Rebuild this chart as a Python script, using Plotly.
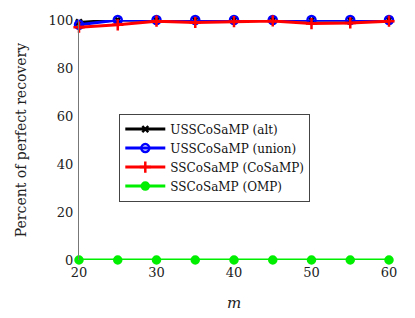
import plotly.graph_objects as go

m = [20, 25, 30, 35, 40, 45, 50, 55, 60]
alt = [99, 100, 100, 100, 100, 100, 100, 100, 100]
union = [98, 100, 100, 100, 100, 100, 100, 100, 100]
cosamp = [97, 98, 99.5, 99, 99.3, 99.6, 98.5, 98.8, 99.5]
omp = [0, 0, 0, 0, 0, 0, 0, 0, 0]

names = ["USSCoSaMP (alt)", "USSCoSaMP (union)", "SSCoSaMP (CoSaMP)", "SSCoSaMP (OMP)"]
colors = ["#000000", "#0000ff", "#ff0000", "#00ee00"]
symbols = ["x-thin-open", "circle-open", "cross-thin-open", "circle"]
sizes = [6, 8, 8, 7]
series = [alt, union, cosamp, omp]

fig = go.Figure()
for name, ys, c, s, sz in zip(names, series, colors, symbols, sizes):
    fig.add_trace(go.Scatter(
        x=m, y=ys, name=name, mode="lines+markers",
        line=dict(color=c, width=3),
        marker=dict(symbol=s, size=sz, color=c, line=dict(color=c, width=2.5)),
    ))

font = "DejaVu Serif"
fig.update_layout(
    width=407, height=310,
    margin=dict(l=71, r=26, t=12, b=58),
    paper_bgcolor="white", plot_bgcolor="white",
    font=dict(family=font, size=13, color="#222"),
    showlegend=True,
    legend=dict(x=0.13, y=0.61, xanchor="left", yanchor="top",
                bgcolor="white", bordercolor="#444", borderwidth=1,
                font=dict(size=12, family=font, color="#111"), tracegroupgap=0,
                itemwidth=40),
    xaxis=dict(range=[20, 60], tickvals=[20, 30, 40, 50, 60], showgrid=False,
               zeroline=False, showline=False, ticks="", automargin=False,
               ticklabelstandoff=3,
               title=dict(text="<i>m</i>", font=dict(size=15), standoff=18)),
    yaxis=dict(range=[0, 100], tickvals=[0, 20, 40, 60, 80, 100], showgrid=False,
               zeroline=False, showline=True, linecolor="#777", linewidth=1, ticks="",
               automargin=False, ticklabelstandoff=2,
               title=dict(text="Percent of perfect recovery", font=dict(size=14), standoff=18)),
)
fig.update_traces(cliponaxis=False)
fig.write_html("out.html")
